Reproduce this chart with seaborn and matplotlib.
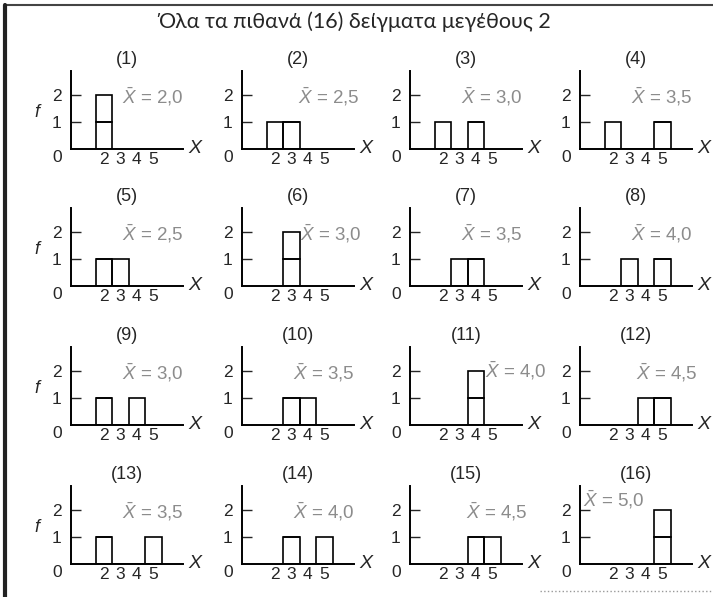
import matplotlib
matplotlib.use('Agg')
import matplotlib.pyplot as plt
from matplotlib.lines import Line2D
import seaborn as sns
import pandas as pd

# the 16 possible samples of size 2 from {2, 3, 4, 5}
first_value = [2, 2, 2, 2, 3, 3, 3, 3, 4, 4, 4, 4, 5, 5, 5, 5]
second_value = [2, 3, 4, 5, 2, 3, 4, 5, 2, 3, 4, 5, 2, 3, 4, 5]
mean_labels = ["2,0", "2,5", "3,0", "3,5", "2,5", "3,0", "3,5", "4,0",
               "3,0", "3,5", "4,0", "4,5", "3,5", "4,0", "4,5", "5,0"]
x_ticks = [2, 3, 4, 5]
y_ticks = [1, 2]
title = "Όλα τα πιθανά (16) δείγματα μεγέθους 2"

df = pd.DataFrame({
    "sample": list(range(1, 17)) * 2,
    "obs": ["first"] * 16 + ["second"] * 16,
    "value": first_value + second_value,
})

sns.set_style("white")
plt.rcParams['font.family'] = ['Liberation Sans', 'DejaVu Sans']
plt.rcParams['mathtext.fontset'] = 'custom'
plt.rcParams['mathtext.rm'] = 'Liberation Sans'
plt.rcParams['mathtext.it'] = 'Liberation Sans:italic'

W, H = 713, 597
fig = plt.figure(figsize=(W / 100, H / 100), dpi=100)

# pixel layout of the panels (y axis x-position, x axis y-position)
col_px = [71, 242, 410, 580]
row_px = [149, 286, 425, 564]
ax_w, ax_h = 112, 78
xmax, ymax = 6.8, 2.9

# where the mean label sits, when not in the usual place
label_pos = {2: (3.4, 1.95), 6: (3.55, 1.95), 11: (4.55, 2.0), 12: (3.4, 1.95),
             15: (3.4, 1.95), 16: (0.2, 2.4)}
grey = "#8c8c8c"

for i in range(16):
    n = i + 1
    r, c = divmod(i, 4)
    left = col_px[c] / W
    bottom = (H - row_px[r]) / H
    ax = fig.add_axes([left, bottom, ax_w / W, ax_h / H])
    sub = df[df["sample"] == n]
    sns.histplot(sub, x="value", hue="obs", hue_order=["first", "second"],
                 multiple="stack", discrete=True, shrink=1, fill=False,
                 palette=["black", "black"], linewidth=1.2, legend=False, ax=ax)
    ax.set_xlim(0, xmax)
    ax.set_ylim(0, ymax)
    ax.set_xlabel("")
    ax.set_ylabel("")
    sns.despine(ax=ax)
    for s in ["left", "bottom"]:
        ax.spines[s].set_linewidth(1.4)
        ax.spines[s].set_color("black")
    ax.set_xticks(x_ticks)
    ax.set_xticklabels([str(t) for t in x_ticks], fontsize=12.5)
    ax.tick_params(axis="x", length=0, pad=2)
    ax.set_yticks(y_ticks)
    ax.set_yticklabels([str(t) for t in y_ticks], fontsize=12.5)
    ax.tick_params(axis="y", direction="in", length=7, width=1, pad=7, left=True)
    ax.set_title(f"({n})", fontsize=13, pad=5)
    ax.text(-0.85, -0.33, "0", fontsize=12.5, ha="center", va="center", clip_on=False)
    ax.text(xmax + 0.7, 0.02, "X", fontsize=14, style="italic", ha="center",
            va="center", clip_on=False)
    if c == 0:
        ax.text(-2.1, 1.35, "f", fontsize=13, style="italic", ha="center",
                va="center", clip_on=False)
    tx, ty = label_pos.get(n, (3.1, 1.95))
    ax.text(tx, ty, r"$\bar{X}$ = " + mean_labels[i], fontsize=13.5, color=grey,
            ha="left", va="center", clip_on=False)

fig.text(355 / W, 1 - 22 / H, title, fontsize=15.5, ha="center", va="center",
         family=["Lato", "DejaVu Sans"])

# frame of the scanned figure
fig.add_artist(Line2D([5 / W, 1], [1 - 5 / H, 1 - 5 / H], color="#444444",
                      lw=1.5, transform=fig.transFigure))
fig.add_artist(Line2D([5 / W, 5 / W], [0, 1 - 5 / H], color="#222222",
                      lw=3, transform=fig.transFigure))
fig.add_artist(Line2D([540 / W, 1], [6 / H, 6 / H], color="#999999", lw=1,
                      ls=":", transform=fig.transFigure))

fig.savefig("out.png", dpi=100)
